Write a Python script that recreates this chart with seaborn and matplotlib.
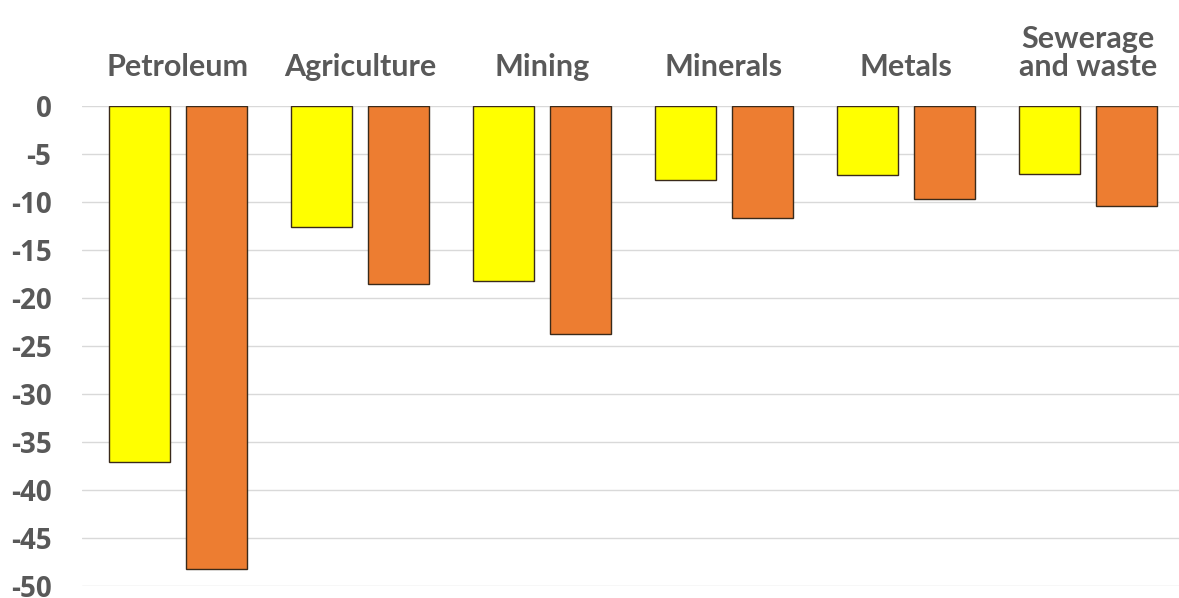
import numpy as np
import pandas as pd
import matplotlib
matplotlib.use("Agg")
import matplotlib.pyplot as plt
from matplotlib.font_manager import FontProperties
import seaborn as sns

# Sector categories (drawn along the top) and the two value series
sectors = ["Petroleum", "Agriculture", "Mining", "Minerals", "Metals", "Sewerage\nand waste"]
series_a = [-37.1, -12.6, -18.2, -7.7, -7.2, -7.1]
series_b = [-48.2, -18.5, -23.7, -11.7, -9.7, -10.4]
series_names = ["Series A", "Series B"]
y_ticks = [0, -5, -10, -15, -20, -25, -30, -35, -40, -45, -50]

bar_colors = ["#FFFF00", "#ED7D31"]
text_color = "#595959"

df = pd.DataFrame({
    "sector": sectors * 2,
    "value": series_a + series_b,
    "series": [series_names[0]] * len(sectors) + [series_names[1]] * len(sectors),
})

sns.set_theme(style="white")
plt.rcParams["font.family"] = ["Lato", "DejaVu Sans"]
plt.rcParams["font.weight"] = "bold"

W, H = 1179, 598
fig = plt.figure(figsize=(W / 100, H / 100), dpi=100)
left, right, top, bottom = 82, 1179, 106, 586
ax = fig.add_axes([left / W, (H - bottom) / H, (right - left) / W, (bottom - top) / H])

sns.barplot(
    data=df, x="sector", y="value", hue="series",
    order=sectors, hue_order=series_names, palette=bar_colors, saturation=1,
    width=0.846, gap=0.21, edgecolor="#3a2a1a", linewidth=1.0,
    legend=False, ax=ax, zorder=3,
)

ax.set_ylim(-50, 0)
ax.set_xlim(-0.527, 5.5)
ax.yaxis.grid(True, color="#D9D9D9", linewidth=1.0, zorder=0)
ax.xaxis.grid(False)
ax.set_axisbelow(True)

ax.xaxis.tick_top()
ax.tick_params(axis="x", length=0, pad=18, labelcolor=text_color)
ax.tick_params(axis="y", length=0, pad=22, labelcolor=text_color)

x_font = FontProperties(family="Lato", weight="bold", size=22)
y_font = FontProperties(family="Open Sans", weight="bold", size=20)
ax.set_xticks(range(len(sectors)))
ax.set_xticklabels(sectors, fontproperties=x_font, color=text_color, linespacing=1.0)
ax.set_yticks(y_ticks)
ax.set_yticklabels([str(t) for t in y_ticks], fontproperties=y_font, color=text_color)

ax.set_xlabel("")
ax.set_ylabel("")
for s in ax.spines.values():
    s.set_visible(False)

fig.savefig("out.png", dpi=100)
